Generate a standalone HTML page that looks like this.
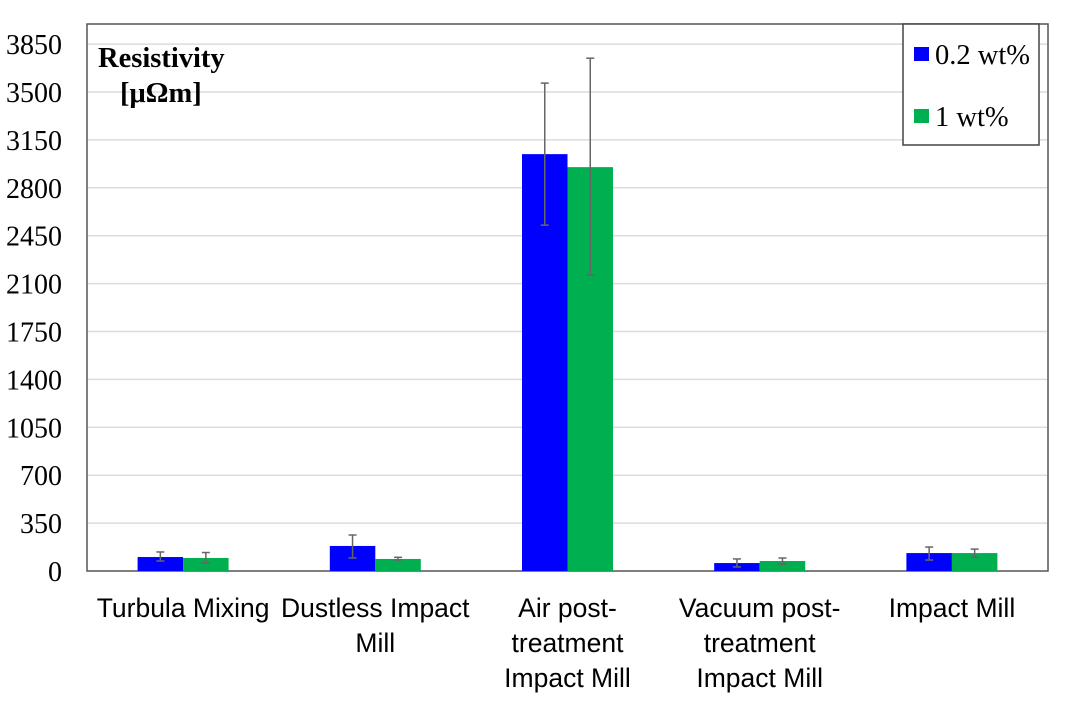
<!DOCTYPE html>
<html><head><meta charset="utf-8"><style>
body{margin:0;background:#fff;width:1069px;height:699px;overflow:hidden}
svg text{font-family:"Liberation Serif",serif}
.xl{font-family:"Liberation Sans",sans-serif;font-size:26.5px;fill:#000}
</style></head><body>
<svg id="chart" width="1069" height="699" xmlns="http://www.w3.org/2000/svg">
<rect x="87" y="24" width="961" height="547" fill="#fff" stroke="#555" stroke-width="1.5"/>
<g id="grid"></g><g id="bars"></g><g id="labels"></g>
<text x="98" y="67" font-size="28.5" font-weight="bold">Resistivity</text>
<text x="120" y="102" font-size="28.5" font-weight="bold">[μΩm]</text>
<g>
<rect x="903" y="24" width="136" height="121" fill="#fff" stroke="#444" stroke-width="1.5"/>
<rect x="914" y="47" width="15" height="14" fill="#0000ff"/>
<text x="935" y="64" font-size="28.5">0.2 wt%</text>
<rect x="914" y="109" width="15" height="14" fill="#00b050"/>
<text x="935" y="126" font-size="28.5">1 wt%</text>
</g>
</svg>
<script>
const categories=[["Turbula Mixing"],["Dustless Impact","Mill"],["Air post-","treatment","Impact Mill"],["Vacuum post-","treatment","Impact Mill"],["Impact Mill"]];
const series1=[102,183,3046,58,131];
const err1Hi=[139,263,3565,88,175];
const err1Lo=[73,95,2527,30,80];
const series2=[95,88,2951,73,131];
const err2Hi=[135,100,3747,95,160];
const err2Lo=[60,80,2162,50,100];
const yTicks=[0,350,700,1050,1400,1750,2100,2450,2800,3150,3500,3850];
const NS="http://www.w3.org/2000/svg";
const x0=87,x1=1048,yB=571,pxPer=47.9/350;
const y=v=>yB-v*pxPer;
const gw=(x1-x0)/categories.length;
function mk(tag,attrs,parent){const e=document.createElementNS(NS,tag);for(const k in attrs)e.setAttribute(k,attrs[k]);document.getElementById(parent).appendChild(e);return e;}
yTicks.forEach(t=>{
 if(t>0){const l=mk('line',{x1:x0+1,x2:x1-1,y1:y(t),y2:y(t),stroke:'#dcdcdc','stroke-width':1.5},'grid');
 
 }
 const tx=mk('text',{x:62,y:y(t)+10,'font-size':28,'text-anchor':'end'},'labels');
 tx.textContent=t;
 
 
});
const bw=45.5;
function bar(i,v,hi,lo,color,off,name){
 const cx=x0+gw*(i+0.5);
 const bx=off<0?cx-bw:cx;
 const r=mk('rect',{x:bx,y:y(v),width:bw,height:yB-y(v),fill:color},'bars');
 
 
 const ex=bx+bw/2;
 const g=mk('g',{stroke:'#666','stroke-width':1.5},'bars');
 
 
 [[ex,y(hi),ex,y(lo)],[ex-4,y(hi),ex+4,y(hi)],[ex-4,y(lo),ex+4,y(lo)]].forEach(a=>{
  const l=document.createElementNS(NS,'line');l.setAttribute('x1',a[0]);l.setAttribute('y1',a[1]);l.setAttribute('x2',a[2]);l.setAttribute('y2',a[3]);g.appendChild(l);});
}
categories.forEach((c,i)=>{
 bar(i,series1[i],err1Hi[i],err1Lo[i],'#0000ff',-1,'bar-0-2wt-'+i);
 bar(i,series2[i],err2Hi[i],err2Lo[i],'#00b050',1,'bar-1wt-'+i);
 const cx=x0+gw*(i+0.5);
 c.forEach((line,j)=>{
  const t=mk('text',{x:cx,y:617+j*35,'text-anchor':'middle',class:'xl'},'labels');
  t.textContent=line;
  
  
 });
});
</script>
</body></html>
